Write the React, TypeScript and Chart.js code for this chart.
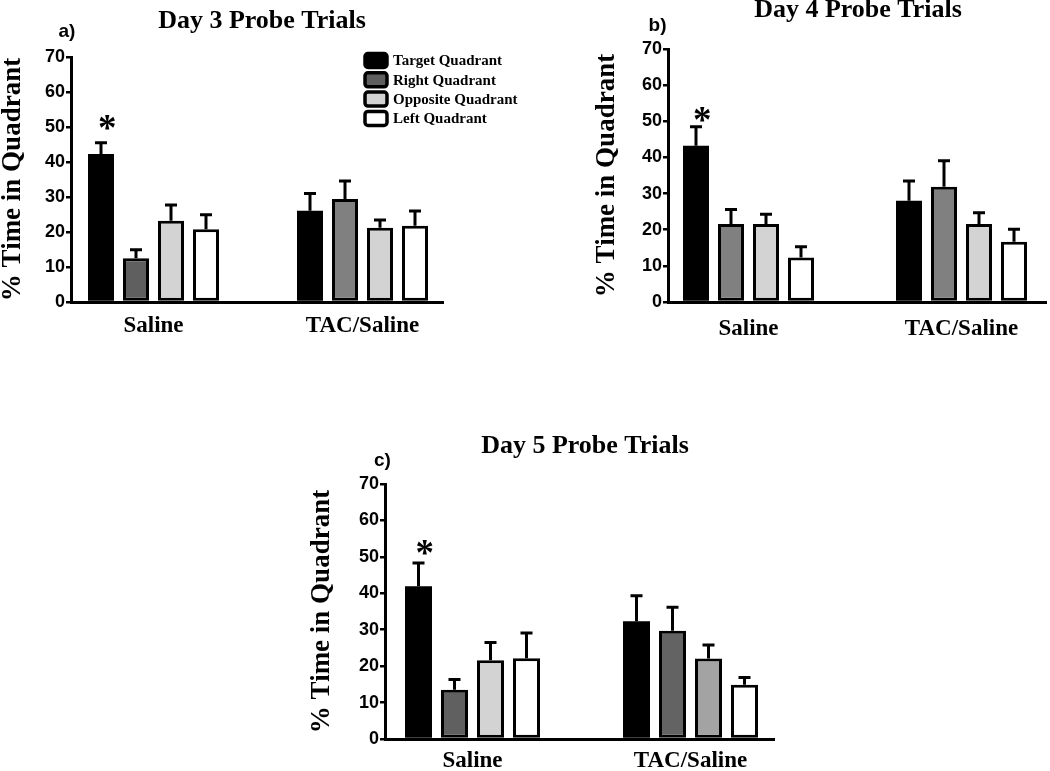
import React, { useEffect, useRef } from "react";
import { Chart, registerables } from "chart.js";

Chart.register(...registerables);

// ---------- data ----------
const groups = ["Saline", "TAC/Saline"];
const groupPositions = [1, 2];
const seriesLabels = ["Target Quadrant", "Right Quadrant", "Opposite Quadrant", "Left Quadrant"];
const yAxisTitle = "% Time in Quadrant";
const yMin = 0;
const yMax = 70;
const yStep = 10;

// Day 3 (panel a): [Saline, TAC/Saline]
const day3Target = [42.3, 26.1];
const day3Right = [12.5, 29.4];
const day3Opposite = [23.2, 21.2];
const day3Left = [20.8, 21.8];
const day3TargetSem = [3.2, 4.9];
const day3RightSem = [2.4, 5.2];
const day3OppositeSem = [4.5, 2.2];
const day3LeftSem = [4.1, 4.2];

// Day 4 (panel b)
const day4Target = [43.2, 28.0];
const day4Right = [21.6, 31.9];
const day4Opposite = [21.6, 21.6];
const day4Left = [12.3, 16.7];
const day4TargetSem = [5.3, 5.5];
const day4RightSem = [4.0, 7.2];
const day4OppositeSem = [2.7, 3.1];
const day4LeftSem = [3.0, 3.4];

// Day 5 (panel c)
const day5Target = [41.9, 32.3];
const day5Right = [13.5, 29.7];
const day5Opposite = [21.6, 22.1];
const day5Left = [22.2, 14.9];
const day5TargetSem = [6.4, 7.0];
const day5RightSem = [2.8, 6.5];
const day5OppositeSem = [4.9, 3.7];
const day5LeftSem = [6.9, 2.0];

// significance marker: value position over Saline / Target
const starText = "*";
const day3StarValue = 51.4;
const day4StarValue = 51.9;
const day5StarValue = 52.7;

const titles = ["Day 3 Probe Trials", "Day 4 Probe Trials", "Day 5 Probe Trials"];
const panelLetters = ["a)", "b)", "c)"];

// ---------- styling ----------
const SERIF = "'Liberation Serif', 'Times New Roman', serif";
const SANS = "'Liberation Sans', Arial, sans-serif";

const colorsA = [
  ["#000000", "#000000"],
  ["#5f5f5f", "#808080"],
  ["#d3d3d3", "#d3d3d3"],
  ["#ffffff", "#ffffff"],
];
const colorsB = [
  ["#000000", "#000000"],
  ["#808080", "#808080"],
  ["#d3d3d3", "#d3d3d3"],
  ["#ffffff", "#ffffff"],
];
const colorsC = [
  ["#000000", "#000000"],
  ["#606060", "#636363"],
  ["#d3d3d3", "#a3a3a3"],
  ["#ffffff", "#ffffff"],
];

type PanelCfg = {
  left: number; top: number; w: number; h: number;
  pad: { left: number; right: number; top: number; bottom: number };
  yWidth: number; xHeight: number; xMin: number; xMax: number; xLabelPad: number;
  catPct: number; barPct: number;
  title: string; titlePos: [number, number];
  letter: string; letterPos: [number, number];
  means: number[][]; errors: number[][]; colors: string[][];
  starValue: number; legend: boolean;
};

const panels: PanelCfg[] = [
  {
    left: 0, top: 0, w: 520, h: 345,
    pad: { left: 0, right: 77, top: 57, bottom: 0 },
    yWidth: 71, xHeight: 43,
    xMin: 1 - 82.5 / 209, xMax: 2 + 80.5 / 209, xLabelPad: 10,
    catPct: 140 / 209, barPct: 26 / 35,
    title: titles[0], titlePos: [262, 28],
    letter: panelLetters[0], letterPos: [67, 32],
    means: [day3Target, day3Right, day3Opposite, day3Left],
    errors: [day3TargetSem, day3RightSem, day3OppositeSem, day3LeftSem],
    colors: colorsA, starValue: day3StarValue, legend: true,
  },
  {
    left: 520, top: 0, w: 530, h: 345,
    pad: { left: 73.5, right: 4, top: 49, bottom: 0 },
    yWidth: 74.5, xHeight: 43,
    xMin: 1 - 80.5 / 213, xMax: 2 + 84.5 / 213, xLabelPad: 13,
    catPct: 140 / 213, barPct: 26 / 35,
    title: titles[1], titlePos: [338, 17],
    letter: panelLetters[1], letterPos: [137.5, 26],
    means: [day4Target, day4Right, day4Opposite, day4Left],
    errors: [day4TargetSem, day4RightSem, day4OppositeSem, day4LeftSem],
    colors: colorsB, starValue: day4StarValue, legend: false,
  },
  {
    left: 290, top: 405, w: 500, h: 366,
    pad: { left: 18.5, right: 16, top: 79, bottom: 0 },
    yWidth: 76.5, xHeight: 32,
    xMin: 1 - 87.5 / 218, xMax: 2 + 83.5 / 218, xLabelPad: 8,
    catPct: 144 / 218, barPct: 27 / 36,
    title: titles[2], titlePos: [295, 48],
    letter: panelLetters[2], letterPos: [92.5, 55.5],
    means: [day5Target, day5Right, day5Opposite, day5Left],
    errors: [day5TargetSem, day5RightSem, day5OppositeSem, day5LeftSem],
    colors: colorsC, starValue: day5StarValue, legend: false,
  },
];

function buildConfig(cfg: PanelCfg): any {
  const datasets = seriesLabels.map((label, s) => ({
    label,
    data: groupPositions.map((x, g) => ({ x, y: cfg.means[s][g] })),
    backgroundColor: cfg.colors[s],
    borderColor: "#000000",
    // solid black bars need no separate outline
    borderWidth: s === 0 ? 0 : 3,
    borderSkipped: false,
    inflateAmount: 0,
    categoryPercentage: cfg.catPct,
    barPercentage: cfg.barPct,
  }));

  const decor = {
    id: "panelDecor",
    afterDatasetsDraw(chart: any) {
      const ctx = chart.ctx;
      const ys = chart.scales.y;
      ctx.save();
      ctx.strokeStyle = "#000000";
      ctx.lineWidth = 3;
      ctx.lineCap = "butt";
      chart.data.datasets.forEach((ds: any, i: number) => {
        const meta = chart.getDatasetMeta(i);
        meta.data.forEach((bar: any, j: number) => {
          const v = cfg.means[i][j];
          const e = cfg.errors[i][j];
          const yTop = ys.getPixelForValue(v);
          const yErr = ys.getPixelForValue(v + e);
          ctx.beginPath();
          ctx.moveTo(bar.x, yTop);
          ctx.lineTo(bar.x, yErr);
          ctx.moveTo(bar.x - 6, yErr);
          ctx.lineTo(bar.x + 6, yErr);
          ctx.stroke();
        });
      });
      // significance star above Saline / Target
      const tb = chart.getDatasetMeta(0).data[0];
      const cx = tb.x + 6;
      const cy = ys.getPixelForValue(cfg.starValue);
      ctx.fillStyle = "#000000";
      ctx.font = `bold 100px ${SERIF}`;
      const m0 = ctx.measureText(starText);
      const w0 = m0.actualBoundingBoxRight + m0.actualBoundingBoxLeft;
      const size = (100 * 15.5) / (w0 || 40);
      ctx.font = `bold ${size}px ${SERIF}`;
      const m = ctx.measureText(starText);
      ctx.textAlign = "left";
      ctx.textBaseline = "alphabetic";
      const X = cx - (m.actualBoundingBoxRight - m.actualBoundingBoxLeft) / 2;
      const Y = cy + (m.actualBoundingBoxAscent - m.actualBoundingBoxDescent) / 2;
      ctx.fillText(starText, X, Y);
      ctx.restore();
    },
    afterDraw(chart: any) {
      const ctx = chart.ctx;
      ctx.save();
      ctx.fillStyle = "#000000";
      // title
      ctx.font = `bold 26px ${SERIF}`;
      ctx.textAlign = "center";
      ctx.textBaseline = "alphabetic";
      ctx.fillText(cfg.title, cfg.titlePos[0], cfg.titlePos[1]);
      // panel letter
      ctx.font = `bold 19px ${SANS}`;
      ctx.textBaseline = "middle";
      ctx.fillText(cfg.letter, cfg.letterPos[0], cfg.letterPos[1]);
      // legend
      if (cfg.legend) {
        const boxX = 365, boxW = 22, boxH = 14, textX = 393;
        chart.data.datasets.forEach((ds: any, i: number) => {
          const cy = 60.5 + i * 19.3;
          ctx.beginPath();
          const r = 3;
          const x0 = boxX, y0 = cy - boxH / 2;
          if (ctx.roundRect) ctx.roundRect(x0, y0, boxW, boxH, r);
          else ctx.rect(x0, y0, boxW, boxH);
          ctx.fillStyle = cfg.colors[i][0];
          ctx.fill();
          ctx.lineWidth = 3.5;
          ctx.strokeStyle = "#000000";
          ctx.stroke();
          ctx.fillStyle = "#000000";
          ctx.font = `bold 15px ${SERIF}`;
          ctx.textAlign = "left";
          ctx.textBaseline = "middle";
          ctx.fillText(ds.label, textX, cy + 1);
        });
      }
      ctx.restore();
    },
  };

  return {
    type: "bar",
    data: { datasets },
    plugins: [decor],
    options: {
      responsive: false,
      animation: false,
      devicePixelRatio: 1,
      layout: { padding: cfg.pad },
      plugins: {
        legend: { display: false },
        title: { display: false },
        tooltip: { enabled: false },
      },
      scales: {
        x: {
          type: "linear",
          min: cfg.xMin,
          max: cfg.xMax,
          offset: false,
          grid: { display: false, drawTicks: false, offset: false },
          border: { display: true, color: "#000000", width: 3 },
          afterBuildTicks: (axis: any) => {
            axis.ticks = groupPositions.map((v) => ({ value: v }));
          },
          afterFit: (scale: any) => {
            scale.height = cfg.xHeight;
          },
          ticks: {
            autoSkip: false,
            maxRotation: 0,
            padding: cfg.xLabelPad,
            color: "#000000",
            font: { family: SERIF, size: 23, weight: "bold" },
            callback: (_v: any, index: number) => groups[index],
          },
        },
        y: {
          min: yMin,
          max: yMax,
          grid: {
            drawOnChartArea: false,
            drawTicks: true,
            tickLength: 5,
            color: "#000000",
            lineWidth: 2.5,
          },
          border: { display: true, color: "#000000", width: 3 },
          afterFit: (scale: any) => {
            scale.width = cfg.yWidth;
          },
          ticks: {
            stepSize: yStep,
            padding: 1,
            color: "#000000",
            font: { family: SANS, size: 18, weight: "bold" },
          },
          title: {
            display: true,
            text: yAxisTitle,
            color: "#000000",
            padding: { top: 0, bottom: 0 },
            font: { family: SERIF, size: 27, weight: "bold", lineHeight: 1 },
          },
        },
      },
    },
  };
}

function Panel({ cfg }: { cfg: PanelCfg }) {
  const ref = useRef<HTMLCanvasElement>(null);
  useEffect(() => {
    if (!ref.current) return;
    const chart = new Chart(ref.current, buildConfig(cfg));
    return () => chart.destroy();
  }, [cfg]);
  return (
    <canvas
      ref={ref}
      width={cfg.w}
      height={cfg.h}
      style={{ position: "absolute", left: cfg.left, top: cfg.top, width: cfg.w, height: cfg.h }}
    />
  );
}

export default function App() {
  return (
    <div
      style={{
        position: "absolute",
        left: 0,
        top: 0,
        width: 1050,
        height: 771,
        background: "#ffffff",
        overflow: "hidden",
      }}
    >
      {panels.map((p, i) => (
        <Panel key={i} cfg={p} />
      ))}
    </div>
  );
}
